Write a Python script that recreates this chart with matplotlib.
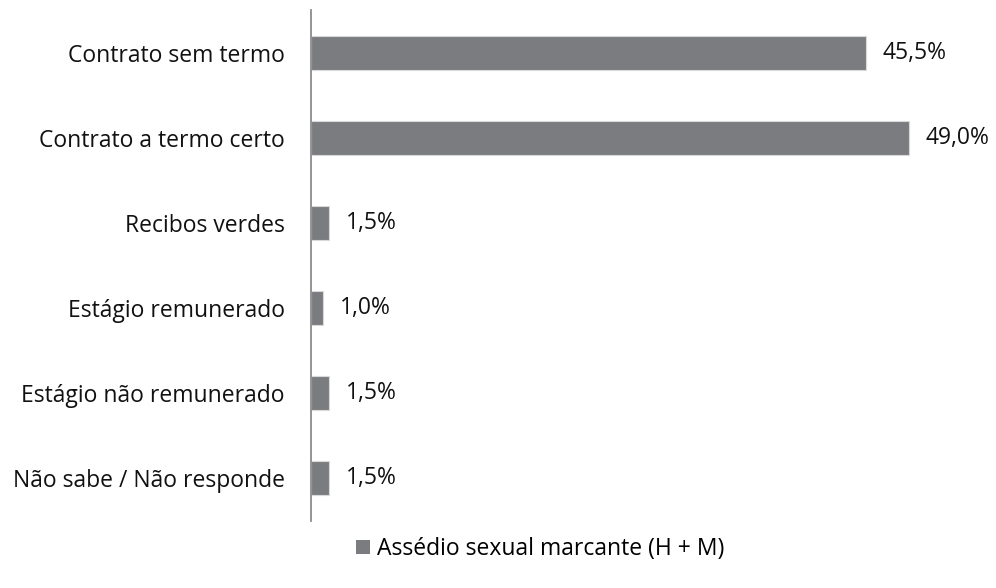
import matplotlib.pyplot as plt
from matplotlib.patches import Patch

categories = ['Contrato sem termo', 'Contrato a termo certo', 'Recibos verdes',
              'Estágio remunerado', 'Estágio não remunerado', 'Não sabe / Não responde']
values = [45.5, 49.0, 1.5, 1.0, 1.5, 1.5]
labels = ['45,5%', '49,0%', '1,5%', '1,0%', '1,5%', '1,5%']
legend_label = 'Assédio sexual marcante (H + M)'

plt.rcParams['font.family'] = ['Open Sans', 'DejaVu Sans']
bar_color = '#7b7c80'
fs = 16.5

fig = plt.figure(figsize=(9.96, 5.88), dpi=100)
# axes: left edge at 311px, top 10px, bottom 521px
ax = fig.add_axes([311 / 996, 1 - 521 / 588, (996 - 311) / 996, 511 / 588])

y = list(range(len(categories)))
ax.barh(y, values, height=0.4, color=bar_color, edgecolor='#d9d9d9', linewidth=0.8)
ax.set_ylim(len(categories) - 0.5, -0.5)
ax.set_xlim(0, 685 / 12.2)

for yi, v, lab in zip(y, values, labels):
    ax.annotate(lab, (v, yi), xytext=(12, 0), textcoords='offset points',
                va='center', ha='left', fontsize=fs, color='#111111')

ax.set_yticks(y)
ax.set_yticklabels(categories, fontsize=fs, color='#111111')
ax.tick_params(axis='y', length=0, pad=19)
ax.set_xticks([])
for s in ['top', 'right', 'bottom']:
    ax.spines[s].set_visible(False)
ax.spines['left'].set_color('#8c8c8c')
ax.spines['left'].set_linewidth(1.3)

fig.legend(handles=[Patch(facecolor=bar_color, edgecolor='none')], labels=[legend_label],
           loc='center', bbox_to_anchor=(540 / 996, 1 - 549 / 588), frameon=False,
           fontsize=fs, handlelength=0.6, handleheight=0.6, handletextpad=0.3)

fig.savefig('out.png', dpi=100)
